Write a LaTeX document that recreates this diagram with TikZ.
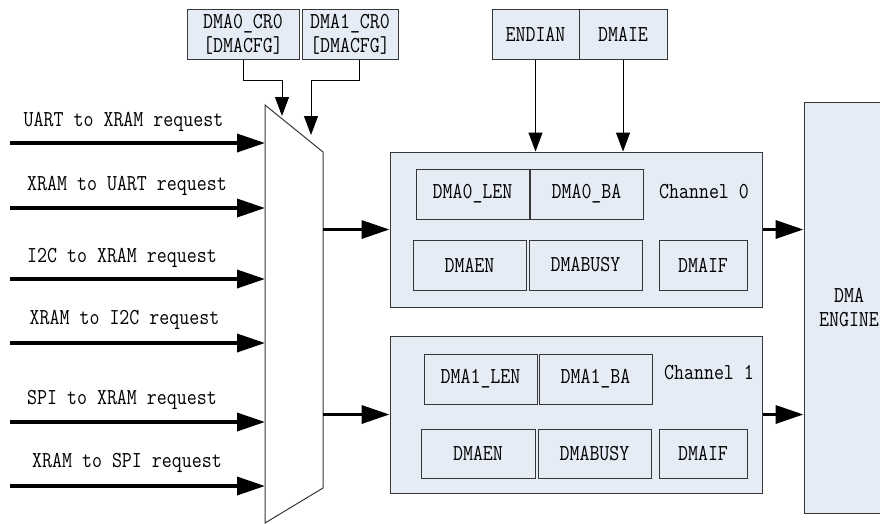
\documentclass[tikz,border=0pt]{standalone}
\usepackage{fontspec}
\newfontfamily\simfont[FakeStretch=0.85]{Latin Modern Mono}
\usetikzlibrary{arrows.meta,calc}
\definecolor{boxfill}{RGB}{230,236,246}
\definecolor{boxline}{RGB}{55,55,55}
\begin{document}
\begin{tikzpicture}[x=1pt,y=-1pt,
  txt/.style={font=\simfont\fontsize{22.8}{24}\selectfont,inner sep=0pt,align=center},
  box/.style={txt,draw=boxline,fill=boxfill,line width=1pt},
  thinarr/.style={draw=black,line width=1pt,-{Triangle[length=19pt,width=14pt]}},
  thickarr/.style={draw=black,line width=3.5pt,-{Triangle[length=28pt,width=18pt]}}
]
\useasboundingbox[fill=white] (0,0) rectangle (880,523);

% config boxes
\node[box,minimum width=112pt,minimum height=50pt] (cr0) at (243,34) {DMA0\_CR0\\{[DMACFG]}};
\node[box,minimum width=96pt,minimum height=50pt] (cr1) at (350,34) {DMA1\_CR0\\{[DMACFG]}};
\node[box,minimum width=87pt,minimum height=50pt] (endian) at (535.5,34) {ENDIAN};
\node[box,minimum width=88pt,minimum height=50pt] (dmaie) at (623,34) {DMAIE};

% mux
\coordinate (m1) at (265,105);
\coordinate (m2) at (323,152);
\coordinate (m3) at (323,488);
\coordinate (m4) at (265,523);
\draw[draw=boxline,fill=white,line width=1pt] (m1) -- (m2) -- (m3) -- (m4) -- cycle;

% channel 0
\node[box,minimum width=372pt,minimum height=155pt] (ch0) at (576,229.5) {};
\node[box,minimum width=113pt,minimum height=50pt] (len0) at (472.5,194) {DMA0\_LEN};
\node[box,minimum width=113pt,minimum height=50pt] (ba0) at (586.5,194) {DMA0\_BA};
\node[txt] (lab0) at (704,192) {Channel 0};
\node[box,minimum width=113pt,minimum height=50pt] (en0) at (469.5,265) {DMAEN};
\node[box,minimum width=113pt,minimum height=50pt] (busy0) at (585.5,265) {DMABUSY};
\node[box,minimum width=88pt,minimum height=50pt] (if0) at (703,265) {DMAIF};

% channel 1
\node[box,minimum width=372pt,minimum height=157pt] (ch1) at (576,414.5) {};
\node[box,minimum width=113pt,minimum height=50pt] (len1) at (480.5,379) {DMA1\_LEN};
\node[box,minimum width=113pt,minimum height=50pt] (ba1) at (595.5,379) {DMA1\_BA};
\node[txt] (lab1) at (709,373) {Channel 1};
\node[box,minimum width=114pt,minimum height=49pt] (en1) at (478,453.5) {DMAEN};
\node[box,minimum width=113pt,minimum height=49pt] (busy1) at (594.5,453.5) {DMABUSY};
\node[box,minimum width=88pt,minimum height=49pt] (if1) at (703,453.5) {DMAIF};

% DMA engine
\node[box,minimum width=90pt,minimum height=411pt] (eng) at (849,307.5) {DMA\\ENGINE};

% config arrows
\coordinate (t0) at (282,116);
\coordinate (t1) at (311,135);
\draw[thinarr] (cr0.south) -- ++(0,21) -| (t0);
\draw[thinarr] ([xshift=9pt]cr1.south) -- ++(0,21) -| (t1);
\draw[thinarr] (endian.south) -- (endian.south |- ch0.north);
\draw[thinarr] (dmaie.south) -- (dmaie.south |- ch0.north);

% input requests
\coordinate (s1) at (10,143);
\coordinate (s2) at (10,208);
\coordinate (s3) at (10,279);
\coordinate (s4) at (10,343);
\coordinate (s5) at (10,422);
\coordinate (s6) at (10,486);
\foreach \i in {1,...,6} {\draw[thickarr] (s\i) -- (s\i -| m1);}
\node[txt] (l1) at (123.5,122) {UART to XRAM request};
\node[txt] (l2) at (127,186) {XRAM to UART request};
\node[txt] (l3) at (122,258) {I2C to XRAM request};
\node[txt] (l4) at (124.5,320) {XRAM to I2C request};
\node[txt] (l5) at (122,400) {SPI to XRAM request};
\node[txt] (l6) at (127,463) {XRAM to SPI request};

% mux to channels, channels to engine
\draw[thickarr] (m2 |- ch0.west) -- (ch0.west);
\draw[thickarr] (m2 |- ch1.west) -- (ch1.west);
\draw[thickarr] (ch0.east) -- (ch0.east -| eng.west);
\draw[thickarr] (ch1.east) -- (ch1.east -| eng.west);
\end{tikzpicture}
\end{document}
